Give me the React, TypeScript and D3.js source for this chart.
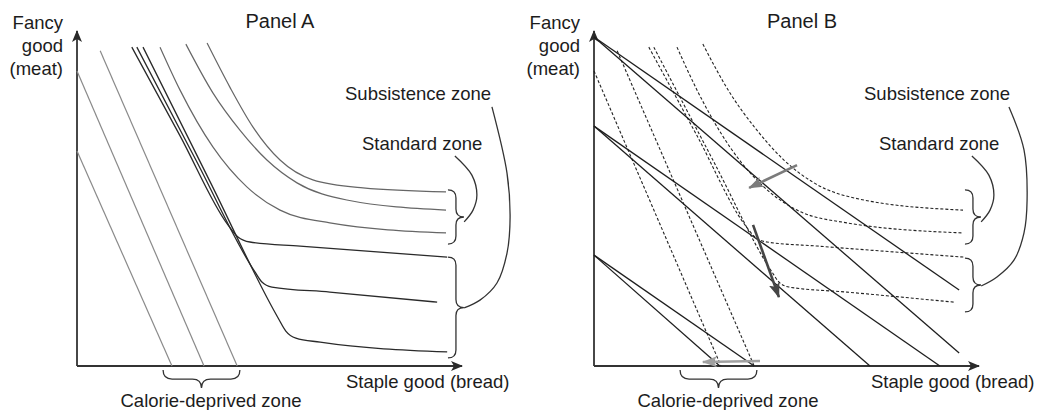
import React, { useRef, useEffect } from 'react';
import * as d3 from 'd3';

const WIDTH = 1037;
const HEIGHT = 410;
const PANEL_B_X = 517;

const panelTitles = ["Panel A", "Panel B"];
const yLabelLines = ["Fancy", "good", "(meat)"];
const xLabel = "Staple good (bread)";
const subsistenceLabel = "Subsistence zone";
const standardLabel = "Standard zone";
const calorieLabel = "Calorie-deprived zone";

// calorie constraint lines, [bread, meat] end points
const calorieLines = [
  [[0, 64.0], [24.6, 0]],
  [[0, 87.8], [32.9, 0]],
  [[6.0, 93.8], [41.5, 0]],
];

// smooth indifference curves (standard zone)
const standardCurves = [
  [[33.7, 96.1], [39.6, 83.0], [45.6, 71.1], [52.6, 61.3], [61.1, 55.4], [74.1, 53.0], [95.6, 51.8]],
  [[28.2, 95.8], [35.2, 81.3], [42.2, 70.2], [49.2, 61.3], [57.0, 54.5], [69.9, 49.4], [95.6, 46.4]],
  [[21.5, 94.9], [26.7, 82.1], [35.2, 65.2], [44.0, 53.3], [52.6, 46.4], [65.5, 42.6], [95.6, 39.6]],
];

// kinked indifference curves (subsistence zone)
const subsistenceCurves = [
  [[14.2, 94.9], [26.7, 68.5], [39.1, 42.0], [41.7, 38.4], [44.8, 36.9], [57.8, 35.7], [95.9, 32.4]],
  [[15.5, 94.9], [30.8, 61.3], [46.1, 28.0], [47.9, 25.0], [50.5, 23.5], [65.5, 22.0], [93.3, 19.0]],
  [[17.1, 94.9], [34.5, 54.8], [52.1, 14.3], [54.1, 10.4], [56.7, 8.3], [63.0, 7.1], [95.9, 4.2]],
];

// panel B budget lines: meat intercept, steep and flat bread intercepts
const budgetMeat = [97.9, 71.4, 33.0];
const budgetBreadSteep = [98.5, 71.5, 32.6];
const budgetBreadFlat = [123.0, 89.6, 41.5];
const budgetClip = 94.6;

// panel B shift arrows [from, to]
const shiftArrows = [
  { from: [52.6, 59.8], to: [40.2, 53.0], color: "#7b7b7b" },
  { from: [41.2, 42.0], to: [47.9, 20.5], color: "#454545" },
  { from: [43.0, 1.5], to: [28.2, 1.2], color: "#a0a0a0" },
];

// braces: bread position, meat range
const standardBrace = { x: 96.1, y: [52.4, 36.3] };
const subsistenceBraceA = { x: 96.1, y: [32.4, 2.4] };
const subsistenceBraceB = { x: 96.1, y: [32.1, 16.1] };
const calorieBrace = { x: [22.3, 42.2], y: -1.2 };

// label leader curves
const standardLeader = [[100.3, 42.9], [102.6, 46.4], [103.6, 50.9], [102.3, 56.8], [97.9, 62.5]];
const subsistenceLeaderA = [[100.3, 17.3], [104.4, 19.6], [108.8, 24.7], [111.4, 33.6], [112.2, 44.3], [111.4, 57.4], [107.5, 77.1]];
const subsistenceLeaderB = [[100.3, 23.8], [104.4, 26.5], [108.8, 31.5], [111.4, 39.6], [112.2, 49.4], [111.4, 64.3], [107.5, 77.1]];

const FONT = "'Liberation Sans', Arial, Helvetica, sans-serif";

const App = () => {
  const ref = useRef(null);

  useEffect(() => {
    const svg = d3.select(ref.current);
    svg.selectAll("*").remove();

    const x = d3.scaleLinear().domain([0, 100]).range([77, 463]);
    const y = d3.scaleLinear().domain([0, 100]).range([366, 30]);

    const line = d3.line().x(d => x(d[0])).y(d => y(d[1])).curve(d3.curveMonotoneX);
    const leader = d3.line().x(d => x(d[0])).y(d => y(d[1])).curve(d3.curveCatmullRom);

    const defs = svg.append("defs");
    const addMarker = (id, color, w, h) => {
      defs.append("marker")
        .attr("id", id)
        .attr("viewBox", `0 0 ${w} ${h}`)
        .attr("refX", w - 1)
        .attr("refY", h / 2)
        .attr("markerUnits", "userSpaceOnUse")
        .attr("markerWidth", w)
        .attr("markerHeight", h)
        .attr("orient", "auto")
        .append("path")
        .attr("d", `M0,0 L${w},${h / 2} L0,${h} L3,${h / 2} Z`)
        .attr("fill", color);
    };
    addMarker("axisHead", "#2a2a2a", 12, 10);
    shiftArrows.forEach((a, i) => addMarker("shift" + i, a.color, 15, 11));

    const vBrace = (b) => {
      const x0 = x(b.x), ya = y(b.y[0]), yb = y(b.y[1]);
      const d = 8, ym = (ya + yb) / 2, x1 = x0 + d, x2 = x0 + 2 * d;
      const p = d3.path();
      p.moveTo(x0, ya);
      p.quadraticCurveTo(x1, ya, x1, ya + d);
      p.lineTo(x1, ym - d);
      p.quadraticCurveTo(x1, ym, x2, ym);
      p.quadraticCurveTo(x1, ym, x1, ym + d);
      p.lineTo(x1, yb - d);
      p.quadraticCurveTo(x1, yb, x0, yb);
      return p.toString();
    };
    const hBrace = (b) => {
      const xa = x(b.x[0]), xb = x(b.x[1]), y0 = y(b.y);
      const d = 9, xm = (xa + xb) / 2, y1 = y0 + d, y2 = y0 + 2 * d;
      const p = d3.path();
      p.moveTo(xa, y0);
      p.quadraticCurveTo(xa, y1, xa + d, y1);
      p.lineTo(xm - d, y1);
      p.quadraticCurveTo(xm, y1, xm, y2);
      p.quadraticCurveTo(xm, y1, xm + d, y1);
      p.lineTo(xb - d, y1);
      p.quadraticCurveTo(xb, y1, xb, y0);
      return p.toString();
    };

    const drawFrame = (g, i) => {
      // axes
      g.append("line")
        .attr("x1", x(0)).attr("y1", y(0)).attr("x2", x(0)).attr("y2", y(100) + 1)
        .attr("stroke", "#333").attr("stroke-width", 1.8)
        .attr("marker-end", "url(#axisHead)");
      g.append("line")
        .attr("x1", x(0)).attr("y1", y(0)).attr("x2", x(100) - 1).attr("y2", y(0))
        .attr("stroke", "#333").attr("stroke-width", 1.8)
        .attr("marker-end", "url(#axisHead)");

      const text = g.append("g")
        .attr("font-family", FONT)
        .attr("font-size", 18.5)
        .attr("fill", "#1c1c1c");

      text.append("text").attr("x", i === 0 ? 280 : 285).attr("y", 28)
        .attr("font-size", 20)
        .attr("text-anchor", "middle").text(panelTitles[i]);
      yLabelLines.forEach((t, k) => {
        text.append("text").attr("x", 63).attr("y", 29 + k * 23)
          .attr("text-anchor", "end").text(t);
      });
      text.append("text").attr("x", i === 0 ? 346 : 354).attr("y", 388).text(xLabel);
      text.append("text").attr("x", 211).attr("y", 407)
        .attr("text-anchor", "middle").text(calorieLabel);
      text.append("text").attr("x", i === 0 ? 345 : 347).attr("y", 100).text(subsistenceLabel);
      text.append("text").attr("x", 362).attr("y", 150).text(standardLabel);

      // braces and leaders
      const bg = g.append("g").attr("fill", "none").attr("stroke", "#333").attr("stroke-width", 1.3);
      bg.append("path").attr("d", vBrace(standardBrace));
      bg.append("path").attr("d", vBrace(i === 0 ? subsistenceBraceA : subsistenceBraceB));
      bg.append("path").attr("d", hBrace(calorieBrace));
      bg.append("path").attr("d", leader(standardLeader));
      bg.append("path").attr("d", leader(i === 0 ? subsistenceLeaderA : subsistenceLeaderB));
    };

    // Panel A
    const gA = svg.append("g");
    drawFrame(gA, 0);

    gA.selectAll(".calorie")
      .data(calorieLines)
      .enter()
      .append("path")
      .attr("d", d => line(d))
      .attr("fill", "none")
      .attr("stroke", "#8a8a8a")
      .attr("stroke-width", 1.2);

    gA.selectAll(".standard")
      .data(standardCurves)
      .enter()
      .append("path")
      .attr("d", d => line(d))
      .attr("fill", "none")
      .attr("stroke", "#666")
      .attr("stroke-width", 1.2);

    gA.selectAll(".subsistence")
      .data(subsistenceCurves)
      .enter()
      .append("path")
      .attr("d", d => line(d))
      .attr("fill", "none")
      .attr("stroke", "#2a2a2a")
      .attr("stroke-width", 1.3);

    // Panel B
    const gB = svg.append("g").attr("transform", `translate(${PANEL_B_X},0)`);
    drawFrame(gB, 1);

    const dashed = [calorieLines[1], calorieLines[2], standardCurves[1], standardCurves[2], subsistenceCurves[0], subsistenceCurves[1]];
    gB.selectAll(".dashed")
      .data(dashed)
      .enter()
      .append("path")
      .attr("d", d => line(d))
      .attr("fill", "none")
      .attr("stroke", "#222")
      .attr("stroke-width", 1.1)
      .attr("stroke-dasharray", "3,2");

    const budgetSegments = [];
    budgetMeat.forEach((m, k) => {
      [budgetBreadSteep[k], budgetBreadFlat[k]].forEach(b => {
        const xe = Math.min(b, budgetClip);
        budgetSegments.push([[0, m], [xe, m * (1 - xe / b)]]);
      });
    });
    gB.selectAll(".budget")
      .data(budgetSegments)
      .enter()
      .append("line")
      .attr("x1", d => x(d[0][0]))
      .attr("y1", d => y(d[0][1]))
      .attr("x2", d => x(d[1][0]))
      .attr("y2", d => y(d[1][1]))
      .attr("stroke", "#1e1e1e")
      .attr("stroke-width", 1.3);

    gB.selectAll(".shift")
      .data(shiftArrows)
      .enter()
      .append("line")
      .attr("x1", d => x(d.from[0]))
      .attr("y1", d => y(d.from[1]))
      .attr("x2", d => x(d.to[0]))
      .attr("y2", d => y(d.to[1]))
      .attr("stroke", d => d.color)
      .attr("stroke-width", 2.6)
      .attr("marker-end", (d, i) => `url(#shift${i})`);
  }, []);

  return (
    <div className="chart">
      <svg ref={ref} width={WIDTH} height={HEIGHT}
        style={{ position: "absolute", left: 0, top: 0, background: "#fff" }}></svg>
    </div>
  );
};

export default App;
